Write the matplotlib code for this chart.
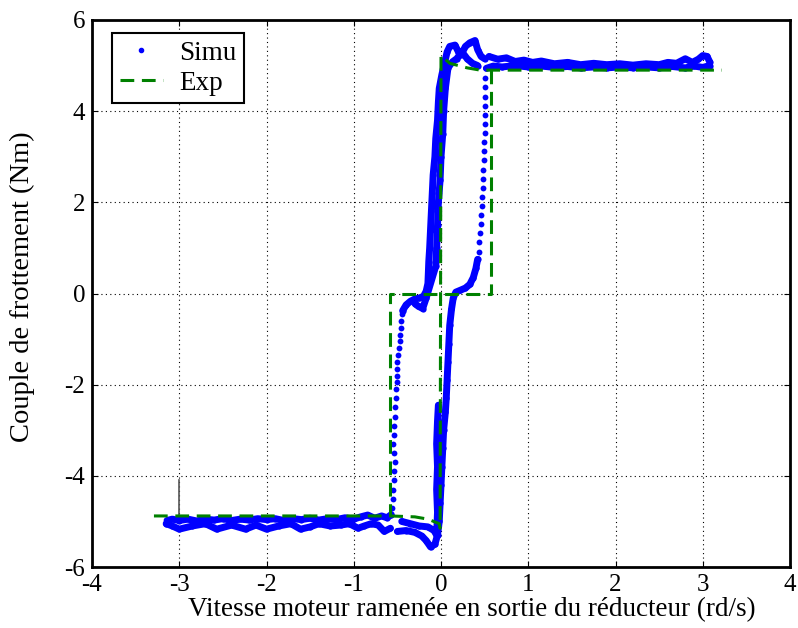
import matplotlib
matplotlib.use("Agg")
import matplotlib.pyplot as plt
from matplotlib.lines import Line2D

# ---------------- data ----------------
# Exp: increasing-speed branch
exp_a_x = [-3.29, -0.58, -0.30, -0.15, -0.02, -0.01, 0.00, 0.10, 0.30, 0.45, 3.22]
exp_a_y = [-4.88, -4.88, -4.90, -4.95, -5.05, -5.15, 5.22, 5.05, 4.95, 4.90, 4.90]
# Exp: decreasing-speed branch
exp_b_x = [0.57, 0.57, -0.58, -0.58]
exp_b_y = [4.90, 0.00, 0.00, -4.88]

# Simu, increasing speed: left plateau
inc_left_x = [-3.14, -3.08, -3.0, -2.9, -2.8, -2.7, -2.6, -2.5, -2.4, -2.3, -2.2, -2.1, -2.0,
              -1.9, -1.8, -1.7, -1.6, -1.5, -1.4, -1.3, -1.2, -1.1, -1.0, -0.92, -0.84,
              -0.76, -0.68, -0.62, -0.57]
inc_left_y = [-4.98, -4.95, -4.98, -4.95, -4.99, -4.95, -4.97, -4.94, -4.98, -4.95, -4.97,
              -4.94, -4.96, -4.94, -4.98, -4.94, -4.96, -4.93, -4.97, -4.94, -4.96, -4.92,
              -4.95, -4.90, -4.86, -4.93, -4.88, -4.92, -4.85]
# Simu, increasing speed: sparse rise near -0.55
inc_rise_x = [-0.56, -0.55, -0.55, -0.54, -0.54, -0.53, -0.54, -0.55, -0.54, -0.54, -0.53,
              -0.53, -0.52, -0.52, -0.51, -0.51, -0.50, -0.50, -0.49, -0.48, -0.47, -0.47,
              -0.46, -0.46, -0.45]
inc_rise_y = [-4.70, -4.50, -4.30, -4.10, -3.90, -3.70, -3.50, -3.30, -3.10, -2.90, -2.70,
              -2.50, -2.30, -2.10, -1.95, -1.80, -1.65, -1.50, -1.35, -1.20, -1.05, -0.90,
              -0.75, -0.60, -0.45]
# Simu, increasing speed: dense crossing and steep rise to the top
inc_mid_x = [-0.44, -0.40, -0.35, -0.30, -0.25, -0.20, -0.17, -0.15, -0.145, -0.14, -0.13,
             -0.12, -0.11, -0.10, -0.09, -0.07, -0.06, -0.04, -0.03, -0.02, 0.01, 0.04,
             0.07, 0.10, 0.16, 0.20, 0.23, 0.28, 0.33, 0.39, 0.42, 0.46, 0.50]
inc_mid_y = [-0.38, -0.25, -0.17, -0.12, -0.10, -0.06, 0.05, 0.22, 0.45, 0.70, 1.00,
             1.40, 1.80, 2.20, 2.60, 3.00, 3.40, 3.80, 4.20, 4.50, 4.80, 5.05,
             5.30, 5.42, 5.45, 5.30, 5.24, 5.42, 5.50, 5.55, 5.35, 5.20, 5.15]
# second pass of the steep upper rise / small crossing strokes
inc_extra_x = [-0.30, -0.26, -0.21, -0.17, -0.06, -0.05, -0.04, -0.03, -0.01, 0.00, 0.02,
               0.03, 0.05, 0.08, 0.13, 0.18, 0.24, 0.30, 0.36, 0.42]
inc_extra_y = [-0.22, -0.28, -0.33, -0.10, 0.60, 1.00, 1.50, 2.00, 2.50, 3.00, 3.50,
               4.00, 4.50, 4.95, 5.08, 5.15, 5.30, 5.15, 5.05, 5.00]
# Simu, increasing speed: right plateau
inc_right_x = [0.55, 0.65, 0.75, 0.85, 0.95, 1.05, 1.15, 1.30, 1.45, 1.60, 1.75, 1.90,
               2.05, 2.20, 2.35, 2.50, 2.60, 2.70, 2.80, 2.88, 2.95, 3.00, 3.05, 3.08]
inc_right_y = [5.20, 5.14, 5.17, 5.09, 5.12, 5.07, 5.10, 5.04, 5.07, 5.02, 5.05, 5.02,
               5.04, 5.01, 5.04, 5.02, 5.07, 5.05, 5.15, 5.07, 5.14, 5.22, 5.20, 5.08]
# Simu, decreasing speed: right plateau
dec_right_x = [3.08, 3.00, 2.90, 2.80, 2.65, 2.50, 2.35, 2.20, 2.05, 1.90, 1.75, 1.60,
               1.45, 1.30, 1.15, 1.00, 0.85, 0.70, 0.60, 0.52]
dec_right_y = [5.00, 4.96, 4.99, 4.95, 4.98, 4.95, 4.97, 4.95, 4.97, 4.95, 4.97, 4.95,
               4.98, 4.96, 4.99, 4.97, 5.00, 4.97, 4.99, 4.94]
# Simu, decreasing speed: sparse fall near +0.5
dec_fall_x = [0.50, 0.50, 0.51, 0.50, 0.50, 0.50, 0.50, 0.49, 0.49, 0.49, 0.48, 0.48,
              0.48, 0.47, 0.47, 0.46, 0.46, 0.45, 0.44, 0.43]
dec_fall_y = [4.72, 4.52, 4.32, 4.12, 3.92, 3.72, 3.52, 3.32, 3.12, 2.92, 2.72, 2.52,
              2.32, 2.12, 1.92, 1.72, 1.52, 1.32, 1.12, 0.92]
# Simu, decreasing speed: dense fall through zero to the bottom dip
dec_mid_x = [0.42, 0.40, 0.37, 0.33, 0.28, 0.22, 0.17, 0.14, 0.12, 0.10, 0.09, 0.08,
             0.07, 0.06, 0.05, 0.03, 0.02, 0.01, 0.00, -0.01, -0.02, -0.04, -0.07, -0.12,
             -0.17, -0.22, -0.30, -0.40, -0.50]
dec_mid_y = [0.75, 0.55, 0.35, 0.20, 0.12, 0.07, 0.03, -0.10, -0.35, -0.70, -1.10, -1.50,
             -1.90, -2.30, -2.60, -3.00, -3.40, -3.80, -4.20, -4.60, -5.00, -5.30, -5.50,
             -5.56, -5.42, -5.32, -5.24, -5.20, -5.22]
# second pass of the lower steep section
dec_extra_x = [-0.45, -0.35, -0.25, -0.15, -0.08, -0.05, -0.04, -0.05, -0.04, -0.05,
               -0.04, -0.03]
dec_extra_y = [-5.00, -5.05, -5.10, -5.12, -5.20, -5.30, -4.80, -4.30, -3.80, -3.30,
               -2.80, -2.45]
# Simu, decreasing speed: left plateau
dec_left_x = [-0.58, -0.65, -0.72, -0.80, -0.88, -0.95, -1.05, -1.15, -1.27, -1.40,
              -1.50, -1.61, -1.72, -1.86, -2.00, -2.12, -2.24, -2.40, -2.57, -2.70,
              -2.85, -3.00, -3.08, -3.15]
dec_left_y = [-5.15, -5.22, -5.08, -5.05, -5.10, -5.15, -5.05, -5.08, -5.10, -5.05,
              -5.12, -5.17, -5.05, -5.10, -5.17, -5.08, -5.17, -5.08, -5.17, -5.05,
              -5.10, -5.17, -5.10, -5.05]
# thin grey trace near x = -3
grey_x = [-3.0, -3.0]
grey_y = [-4.10, -4.95]

x_ticks = [-4, -3, -2, -1, 0, 1, 2, 3, 4]
y_ticks = [-6, -4, -2, 0, 2, 4, 6]
x_label = "Vitesse moteur ramenée en sortie du réducteur (rd/s)"
y_label = "Couple de frottement (Nm)"

# ---------------- figure ----------------
plt.rcParams['font.family'] = ['Liberation Serif', 'DejaVu Serif']
plt.rcParams['font.size'] = 18

fig = plt.figure(figsize=(7.98, 6.28), dpi=100)
ax = fig.add_axes([92 / 798, 1 - 567 / 628, 698 / 798, 547 / 628])

blue = '#0000ff'
green = '#008000'
band_kw = dict(color=blue, lw=5.0, marker='o', ms=4.5, mew=0, solid_capstyle='round',
               solid_joinstyle='round', zorder=3)
dot_kw = dict(color=blue, ls='none', marker='o', ms=4.2, mew=0, zorder=3)

for xs, ys in [(inc_left_x, inc_left_y), (inc_mid_x, inc_mid_y), (inc_extra_x, inc_extra_y),
               (inc_right_x, inc_right_y), (dec_right_x, dec_right_y),
               (dec_mid_x, dec_mid_y), (dec_extra_x, dec_extra_y), (dec_left_x, dec_left_y)]:
    ax.plot(xs, ys, **band_kw)
for xs, ys in [(inc_rise_x, inc_rise_y), (dec_fall_x, dec_fall_y)]:
    ax.plot(xs, ys, **dot_kw)

ax.plot(grey_x, grey_y, color='#555555', lw=1.2, zorder=2)

ax.plot(exp_a_x, exp_a_y, color=green, ls='--', lw=2.2, dashes=(4.5, 2.5), zorder=4)
ax.plot(exp_b_x, exp_b_y, color=green, ls='--', lw=2.2, dashes=(4.5, 2.5), zorder=4)

ax.set_xlim(-4, 4)
ax.set_ylim(-6, 6)
ax.set_xticks(x_ticks)
ax.set_yticks(y_ticks)
ax.set_xticklabels([str(v) for v in x_ticks])
ax.set_yticklabels([str(v) for v in y_ticks])
ax.tick_params(direction='in', length=4, width=0.8, top=True, right=True, pad=5,
               labelsize=18)
ax.grid(True, color='black', ls=(0, (1, 3)), lw=0.8)
for s in ax.spines.values():
    s.set_linewidth(2.0)
    s.set_color('black')

ax.set_xlabel(x_label, fontsize=19.5, labelpad=0)
ax.xaxis.set_label_coords(0.544, -0.055)
ax.set_ylabel(y_label, fontsize=20.5)
ax.yaxis.set_label_coords(-0.082, 0.512)

handles = [Line2D([], [], color=blue, marker='.', ls='none', ms=6),
           Line2D([], [], color=green, ls='--', lw=2.2, dashes=(4.5, 2.5))]
leg = ax.legend(handles, ['Simu', 'Exp'], loc='upper left',
                bbox_to_anchor=(0.029, 0.976), fontsize=19.5, frameon=True,
                fancybox=False, framealpha=1, edgecolor='black', handlelength=1.6,
                handletextpad=0.6, borderpad=0.28, labelspacing=0.18, borderaxespad=0)
leg.get_frame().set_linewidth(1.5)

fig.savefig('out.png', dpi=100)
